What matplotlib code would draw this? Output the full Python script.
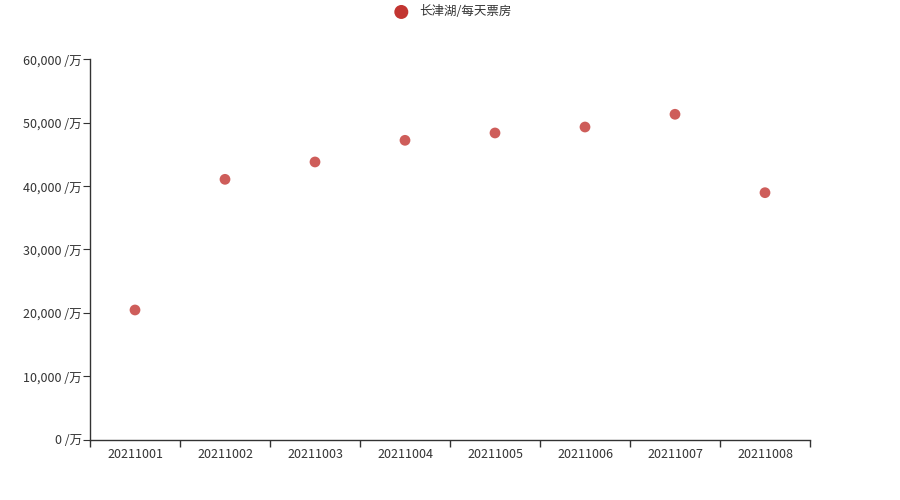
import numpy as np
import matplotlib
matplotlib.use('Agg')
from matplotlib import pyplot as plt
from matplotlib.ticker import FuncFormatter

plt.rcParams['font.family'] = ['Noto Sans CJK SC', 'DejaVu Sans']

dates = ['20211001', '20211002', '20211003', '20211004',
         '20211005', '20211006', '20211007', '20211008']
box_office = [20450, 41080, 43820, 47240, 48400, 49340, 51350, 38970]
series_name = '长津湖/每天票房'

fig = plt.figure(figsize=(9, 5), dpi=100)
ax = fig.add_axes([0.1, 0.121, 0.8, 0.76])

x = np.arange(len(dates))
ax.scatter(x, box_office, s=60, color='#c23531', alpha=0.8,
           edgecolors='none', label=series_name, zorder=3)

ax.set_xlim(-0.5, len(dates) - 0.5)
ax.set_ylim(0, 60000)

# 类目轴: 刻度在边界, 标签在中间
ax.set_xticks(np.arange(-0.5, len(dates), 1))
ax.set_xticklabels([])
ax.set_xticks(x, minor=True)
ax.set_xticklabels(dates, minor=True)
ax.tick_params(axis='x', which='major', direction='out', length=5,
               color='#333333', width=1)
ax.tick_params(axis='x', which='minor', length=0, pad=6,
               labelsize=9, labelcolor='#333333')

ax.set_yticks(np.arange(0, 60001, 10000))
ax.yaxis.set_major_formatter(FuncFormatter(lambda v, p: '{:,.0f} /万'.format(v)))
ax.tick_params(axis='y', direction='out', length=5, color='#333333',
               labelsize=9, labelcolor='#333333', pad=1)

for side in ['top', 'right']:
    ax.spines[side].set_visible(False)
for side in ['left', 'bottom']:
    ax.spines[side].set_color('#333333')
    ax.spines[side].set_linewidth(1)

leg = fig.legend(loc='upper center', bbox_to_anchor=(0.5, 1.012), frameon=False,
                 fontsize=9, handletextpad=0.4, markerscale=1.3)
for h in leg.legend_handles:
    h.set_alpha(1)
for t in leg.get_texts():
    t.set_color('#333333')

plt.savefig('out.png', dpi=100)
